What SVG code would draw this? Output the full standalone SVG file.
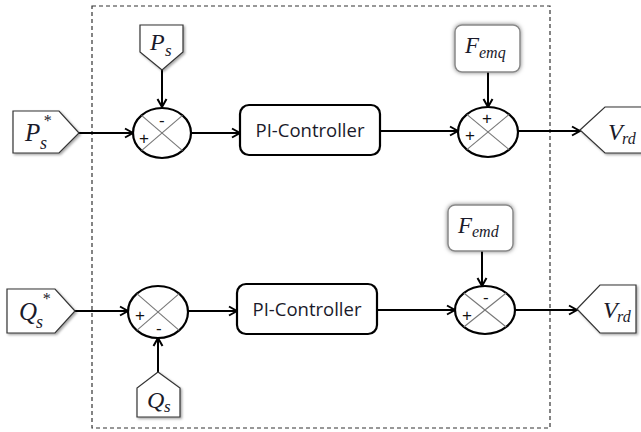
<svg xmlns="http://www.w3.org/2000/svg" width="641" height="432" viewBox="0 0 641 432">
<defs>
<style>
.pent{fill:#fff;stroke:#333;stroke-width:1.2;filter:url(#sh)}
.ell{fill:#fff;stroke:#000;stroke-width:2.2}
.x{stroke:#777;stroke-width:1.1}
.box{fill:#fff;stroke:#000;stroke-width:2.2}
.fbox{fill:#fff;stroke:#888;stroke-width:1.5;filter:url(#glow)}
.ln{stroke:#000;stroke-width:2;fill:none;marker-end:url(#ar)}
.m{font-family:"Liberation Serif",serif;font-style:italic;fill:#1a1a2a}
.t{font-family:"Open Sans","Liberation Sans",sans-serif;fill:#1a1a2a;font-size:18.5px}
.sg{font-family:"Liberation Sans",sans-serif;fill:#111;font-size:17px}
</style>
<filter id="sh" x="-20%" y="-20%" width="150%" height="150%"><feDropShadow dx="1.5" dy="1.5" stdDeviation="0.8" flood-color="#000" flood-opacity="0.35"/></filter>
<filter id="glow" x="-30%" y="-30%" width="160%" height="160%"><feDropShadow dx="0" dy="0" stdDeviation="2.2" flood-color="#000" flood-opacity="0.5"/></filter>
<marker id="ar" markerWidth="12" markerHeight="12" refX="10" refY="6" orient="auto" markerUnits="userSpaceOnUse"><polyline points="2,1.5 10,6 2,10.5" fill="none" stroke="#000" stroke-width="2"/></marker>
</defs>
<rect width="641" height="432" fill="#fff"/>
<rect id="frame" x="92" y="6" width="458" height="422" fill="none" stroke="#333" stroke-width="1.2" stroke-dasharray="4,3"/>

<g id="connectors">
<line class="ln" x1="79" y1="133" x2="133" y2="133"/>
<line class="ln" x1="162" y1="70" x2="162" y2="107"/>
<line class="ln" x1="191" y1="133" x2="240" y2="133"/>
<line class="ln" x1="380" y1="131" x2="458" y2="131"/>
<line class="ln" x1="488" y1="72" x2="488" y2="107"/>
<line class="ln" x1="518" y1="131" x2="580" y2="131"/>
<line class="ln" x1="75" y1="311" x2="128" y2="311"/>
<line class="ln" x1="158" y1="372" x2="158" y2="338"/>
<line class="ln" x1="188" y1="311" x2="237" y2="311"/>
<line class="ln" x1="377" y1="310" x2="455" y2="310"/>
<line class="ln" x1="482" y1="251" x2="482" y2="286"/>
<line class="ln" x1="514" y1="310" x2="577" y2="310"/>
</g>

<g id="Ps_ref">
<polygon class="pent" points="13,111 59,111 79,133 59,153 13,153"/>
<text class="m" x="25" y="141" font-size="25">P</text>
<text class="m" x="40" y="149" font-size="18">s</text>
<text class="m" x="43" y="126" font-size="16">*</text>
</g>
<g id="Ps">
<polygon class="pent" points="140,25 183,25 183,52 162,70 140,52"/>
<text class="m" x="150" y="50" font-size="24">P</text>
<text class="m" x="165" y="56" font-size="17">s</text>
</g>
<g id="sum1">
<ellipse class="ell" cx="162" cy="133" rx="29" ry="25"/>
<line class="x" x1="141.5" y1="115.3" x2="182.5" y2="150.7"/>
<line class="x" x1="141.5" y1="150.7" x2="182.5" y2="115.3"/>
<text class="sg" x="159" y="126">-</text>
<text class="sg" x="139" y="144">+</text>
</g>
<g id="pi1">
<rect class="box" x="240" y="105" width="140" height="50" rx="9"/>
<text class="t" x="310" y="137" text-anchor="middle">PI-Controller</text>
</g>
<g id="Femq">
<rect class="fbox" x="455" y="25" width="65" height="47" rx="7"/>
<text class="m" x="465" y="53" font-size="23">F</text>
<text class="m" x="479" y="58" font-size="16">emq</text>
</g>
<g id="sum2">
<ellipse class="ell" cx="488" cy="132" rx="30" ry="25"/>
<line class="x" x1="466.8" y1="114.3" x2="509.2" y2="149.7"/>
<line class="x" x1="466.8" y1="149.7" x2="509.2" y2="114.3"/>
<text class="sg" x="482" y="124">+</text>
<text class="sg" x="465" y="141">+</text>
</g>
<g id="Vrd1">
<polygon class="pent" points="580,130 605,107 645,107 645,153 605,153"/>
<text class="m" x="608" y="140" font-size="24">V</text>
<text class="m" x="622" y="144" font-size="16">rd</text>
</g>

<g id="Qs_ref">
<polygon class="pent" points="7,289 55,289 75,311 55,333 7,333"/>
<text class="m" x="19" y="320" font-size="25">Q</text>
<text class="m" x="36" y="328" font-size="18">s</text>
<text class="m" x="42" y="304" font-size="16">*</text>
</g>
<g id="sum3">
<ellipse class="ell" cx="158" cy="312" rx="30" ry="26"/>
<line class="x" x1="136.8" y1="293.6" x2="179.2" y2="330.4"/>
<line class="x" x1="136.8" y1="330.4" x2="179.2" y2="293.6"/>
<text class="sg" x="135" y="321">+</text>
<text class="sg" x="156" y="334">-</text>
</g>
<g id="Qs">
<polygon class="pent" points="158,372 180,388 180,417 137,417 137,388"/>
<text class="m" x="147" y="408" font-size="24">Q</text>
<text class="m" x="164" y="412" font-size="17">s</text>
</g>
<g id="pi2">
<rect class="box" x="237" y="284" width="140" height="50" rx="9"/>
<text class="t" x="307" y="316" text-anchor="middle">PI-Controller</text>
</g>
<g id="Femd">
<rect class="fbox" x="448" y="205" width="65" height="46" rx="7"/>
<text class="m" x="458" y="233" font-size="23">F</text>
<text class="m" x="472" y="237" font-size="16">emd</text>
</g>
<g id="sum4">
<ellipse class="ell" cx="485" cy="310" rx="30" ry="24"/>
<line class="x" x1="463.8" y1="293" x2="506.2" y2="327"/>
<line class="x" x1="463.8" y1="327" x2="506.2" y2="293"/>
<text class="sg" x="483" y="303">-</text>
<text class="sg" x="462" y="321">+</text>
</g>
<g id="Vrd2">
<polygon class="pent" points="577,309 600,285 636,285 636,333 600,333"/>
<text class="m" x="603" y="318" font-size="24">V</text>
<text class="m" x="617" y="322" font-size="16">rd</text>
</g>
</svg>
